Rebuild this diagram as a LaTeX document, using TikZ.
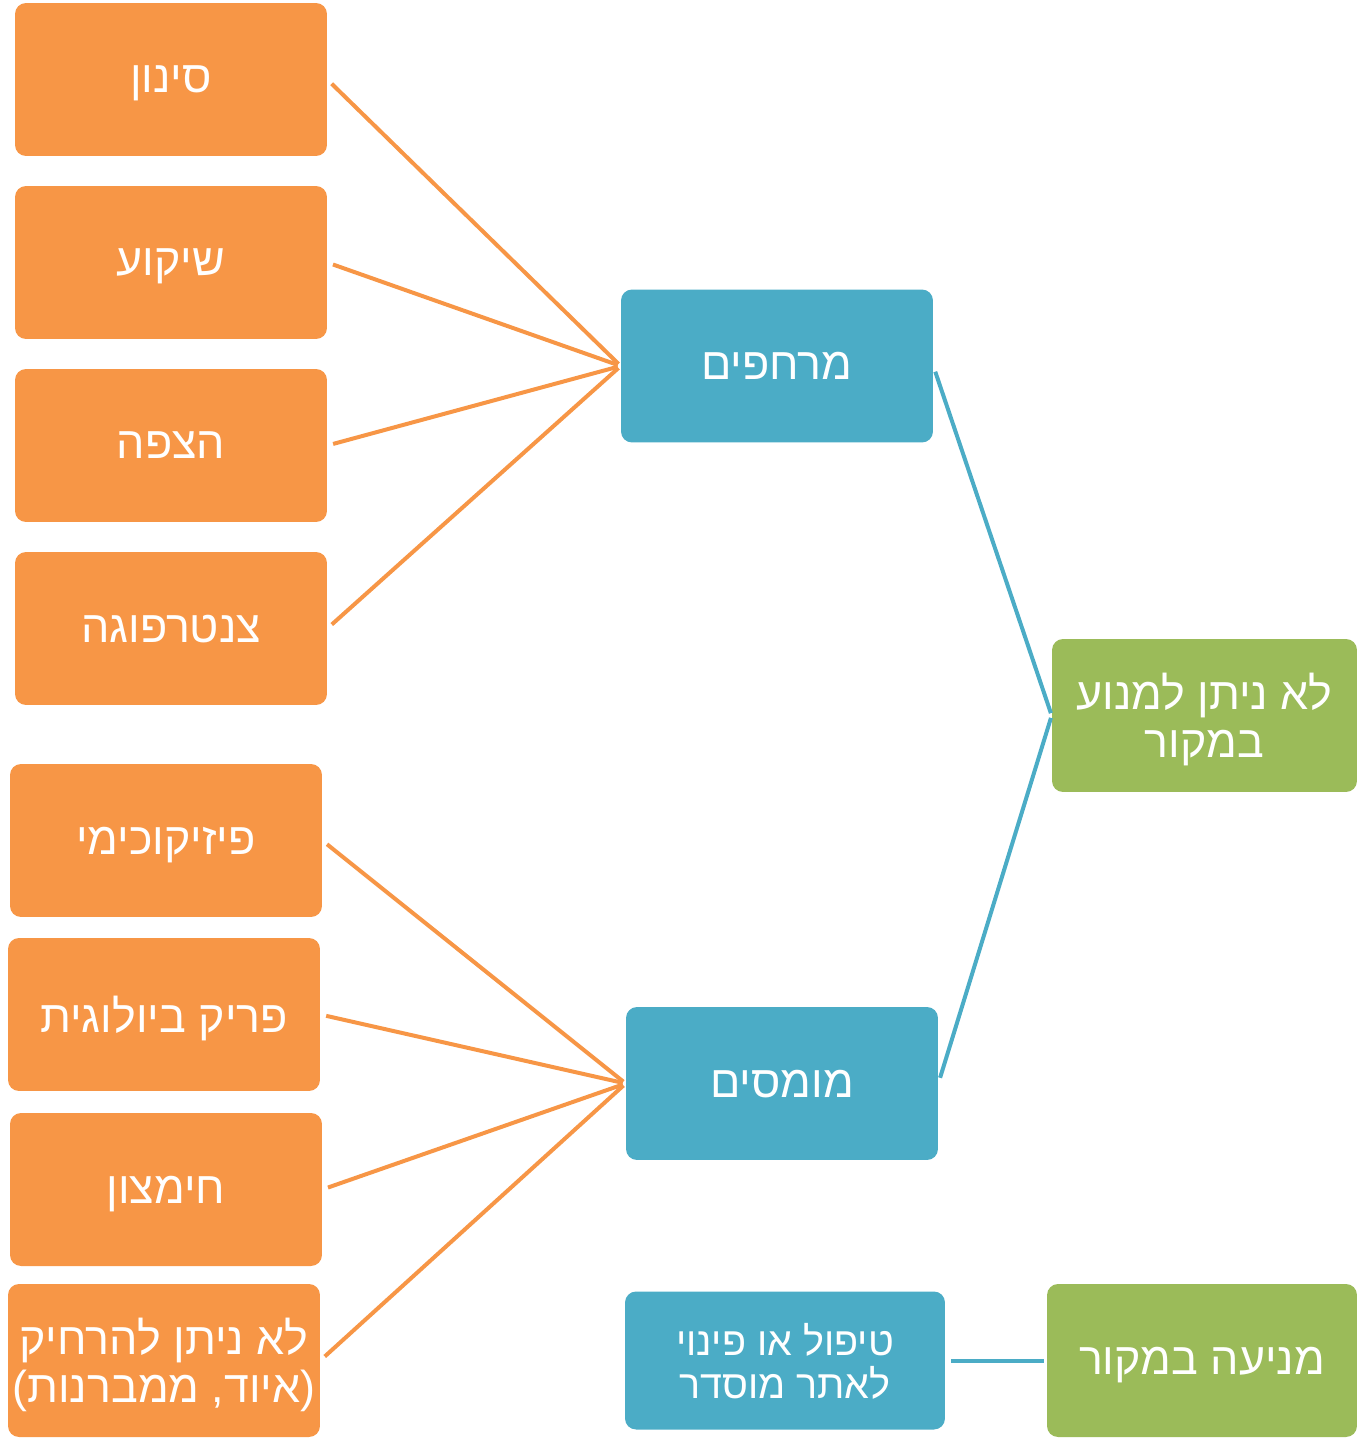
\documentclass[tikz,border=0pt]{standalone}
\usepackage{fontspec}
\newfontfamily\hebfont[Script=Hebrew]{Liberation Sans}
\TeXXeTstate=1
\newcommand{\heb}[1]{\beginR #1\endR}
\definecolor{boxorange}{HTML}{F79646}
\definecolor{boxblue}{HTML}{4BACC6}
\definecolor{boxgreen}{HTML}{9BBB59}

\begin{document}
\begin{tikzpicture}[x=0.02cm,y=-0.02cm,
    box/.style={rounded corners=0.22cm,minimum width=6.24cm,minimum height=3.06cm,
      inner sep=0pt,align=center,text=white,text depth=0pt,
      font=\hebfont\fontsize{25.5pt}{27.5pt}\selectfont},
    obox/.style={box,fill=boxorange},
    bbox/.style={box,fill=boxblue},
    gbox/.style={box,fill=boxgreen},
    link/.style={line width=0.08cm}]
  \useasboundingbox (0,0) rectangle (1357,1440);
  \node[obox] (s1) at (171,79.5) {\heb{סינון}};
  \node[obox] (s2) at (171,262.5) {\heb{שיקוע}};
  \node[obox] (s3) at (171,445.5) {\heb{הצפה}};
  \node[obox] (s4) at (171,628.5) {\heb{צנטרפוגה}};
  \node[obox] (s5) at (166,840.5) {\heb{פיזיקוכימי}};
  \node[obox] (s6) at (164,1014.5) {\heb{פריק ביולוגית}};
  \node[obox] (s7) at (166,1189.5) {\heb{חימצון}};
  \node[obox] (s8) at (164,1360.5) {\heb{לא ניתן להרחיק}\\\heb{(איוד, ממברנות)}};
  \node[bbox] (m1) at (777,366) {\heb{מרחפים}};
  \node[bbox] (m2) at (782,1083.5) {\heb{מומסים}};
  \node[bbox,minimum width=6.4cm,minimum height=2.76cm,
    font=\hebfont\fontsize{22.5pt}{24.5pt}\selectfont] (t) at (785,1360.5)
    {\heb{טיפול או פינוי}\\\heb{לאתר מוסדר}};
  \node[gbox,minimum width=6.1cm] (g1) at (1204.5,715.5) {\heb{לא ניתן למנוע}\\\heb{במקור}};
  \node[gbox,minimum width=6.2cm] (g2) at (1202,1360.5) {\heb{מניעה במקור}};
  \begin{scope}[link,boxorange,shorten <=0.12cm,shorten >=0.06cm]
    \foreach \s in {s1,s2,s3,s4}
      \draw (\s.east) -- (m1.west);
    \foreach \s in {s5,s6,s7,s8}
      \draw (\s.east) -- (m2.west);
  \end{scope}
  \begin{scope}[link,boxblue,shorten <=0.12cm,shorten >=0.05cm]
    \draw (m1.east) -- (g1.west);
    \draw (m2.east) -- (g1.west);
    \draw (t.east) -- (g2.west);
  \end{scope}
\end{tikzpicture}
\end{document}
